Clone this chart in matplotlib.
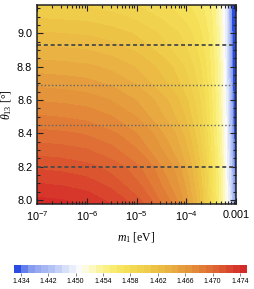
import numpy as np
import matplotlib
matplotlib.use('Agg')
import matplotlib.pyplot as plt
from matplotlib.colors import LinearSegmentedColormap, ListedColormap, BoundaryNorm
from matplotlib.ticker import FixedLocator, MultipleLocator, LogLocator, NullFormatter

plt.rcParams['font.family'] = 'Liberation Sans'
plt.rcParams['mathtext.fontset'] = 'custom'
plt.rcParams['mathtext.rm'] = 'Liberation Serif'
plt.rcParams['mathtext.it'] = 'Liberation Serif:italic'
plt.rcParams['mathtext.sf'] = 'Liberation Sans'

# values
log_m1 = [-7.0, -6.5, -6.0, -5.5, -5.0, -4.5, -4.0, -3.75, -3.5, -3.3, -3.2, -3.1, -3.05, -3.0]
# drop from the left-edge value, at the bottom and at the top of the plot
drop_low = [0.0, 0.0002, 0.0006, 0.0015, 0.0030, 0.0055, 0.0090, 0.0120, 0.0168, 0.0205, 0.0232, 0.0280, 0.0350, 0.0400]
drop_high = [0.0, 0.0001, 0.0002, 0.0005, 0.0010, 0.0018, 0.0028, 0.0036, 0.0050, 0.0080, 0.0115, 0.0240, 0.0330, 0.0450]
theta13 = [7.975, 8.2, 8.4, 8.6, 8.8, 9.0, 9.17]
value_left = [1.4745, 1.4718, 1.4693, 1.4669, 1.4645, 1.4621, 1.4600]
low_weight = [1.0, 0.81, 0.65, 0.48, 0.31, 0.14, 0.0]

dashed_lines = [8.20, 8.93]   # 3 sigma
dotted_lines = [8.45, 8.69]   # 1 sigma

levels = [1.400] + [1.434, 1.436, 1.438, 1.440, 1.442, 1.444, 1.446, 1.448, 1.450,
          1.451, 1.452, 1.453, 1.454, 1.455, 1.456, 1.457, 1.458, 1.459, 1.460,
          1.461, 1.462, 1.463, 1.464, 1.465, 1.466, 1.467, 1.468, 1.469, 1.470,
          1.471, 1.472, 1.473, 1.474] + [1.480]
cbar_ticks = [1.434, 1.442, 1.450, 1.454, 1.458, 1.462, 1.466, 1.470, 1.474]

m1 = 10.0 ** np.array(log_m1)
w = np.array(low_weight)[:, None]
drop = w * np.array(drop_low)[None, :] + (1 - w) * np.array(drop_high)[None, :]
Z = np.array(value_left)[:, None] - drop

base = LinearSegmentedColormap.from_list('bwyr', [
    (0.00, '#2a4ce2'), (0.04, '#7d94ee'), (0.15, '#b3c2f5'), (0.22, '#dce3fa'),
    (0.27, '#fafafd'), (0.31, '#fdfbd8'), (0.40, '#faf07a'), (0.47, '#f6e25a'),
    (0.58, '#efcb48'), (0.70, '#e7a840'), (0.80, '#e28438'), (0.90, '#dc5a30'),
    (1.00, '#d42a28')])
nb = len(levels) - 1
cmap = ListedColormap([base(i / (nb - 1)) for i in range(nb)])
norm = BoundaryNorm(levels, nb)

fig = plt.figure(figsize=(2.54, 2.89), dpi=100)
ax = fig.add_axes([0.146, 0.294, 0.783, 0.689])
cs = ax.contourf(m1, theta13, Z, levels=levels, cmap=cmap, norm=norm, antialiased=False)
ax.set_xscale('log')
ax.set_xlim(1e-7, 1e-3)
ax.set_ylim(7.975, 9.17)

for y in dashed_lines:
    ax.axhline(y, color='#4a4a4a', lw=1.3, ls=(0, (2.2, 1.6)))
for y in dotted_lines:
    ax.axhline(y, color='#666666', lw=1.0, ls=(0, (1, 1.6)))

ax.xaxis.set_major_locator(FixedLocator([1e-7, 1e-6, 1e-5, 1e-4, 1e-3]))
ax.set_xticklabels([r'$\mathsf{10^{-7}}$', r'$\mathsf{10^{-6}}$', r'$\mathsf{10^{-5}}$',
                    r'$\mathsf{10^{-4}}$', '0.001'])
ax.xaxis.set_minor_locator(LogLocator(base=10, subs=np.arange(2, 10), numticks=20))
ax.xaxis.set_minor_formatter(NullFormatter())
ax.yaxis.set_major_locator(MultipleLocator(0.2))
ax.yaxis.set_minor_locator(MultipleLocator(0.05))
ax.yaxis.set_major_formatter(plt.FuncFormatter(lambda v, p: '%.1f' % v))
ax.tick_params(which='both', direction='in', top=True, right=True, labelsize=7.8,
               color='#222222', width=0.8)
ax.tick_params(which='major', length=4)
ax.tick_params(which='minor', length=2)
ax.tick_params(axis='x', pad=4)
for s in ax.spines.values():
    s.set_linewidth(1.1)
    s.set_color('#222222')

ax.set_xlabel(r'$m_1$ [eV]', family='Liberation Serif', fontsize=8.5, labelpad=5)
ax.set_ylabel(r'$\theta_{13}$ [°]', family='Liberation Serif', fontsize=8.5, labelpad=2)

cax = fig.add_axes([0.055, 0.055, 0.917, 0.029])
cb = fig.colorbar(cs, cax=cax, orientation='horizontal', spacing='uniform',
                  boundaries=levels, ticks=cbar_ticks)
cb.outline.set_visible(False)
cb.ax.set_xticklabels(['%.3f' % t for t in cbar_ticks])
cb.ax.tick_params(labelsize=5, length=2, width=0.5, pad=1.5, color='#555555')
cb.ax.minorticks_off()

fig.savefig('out.png', dpi=100)
